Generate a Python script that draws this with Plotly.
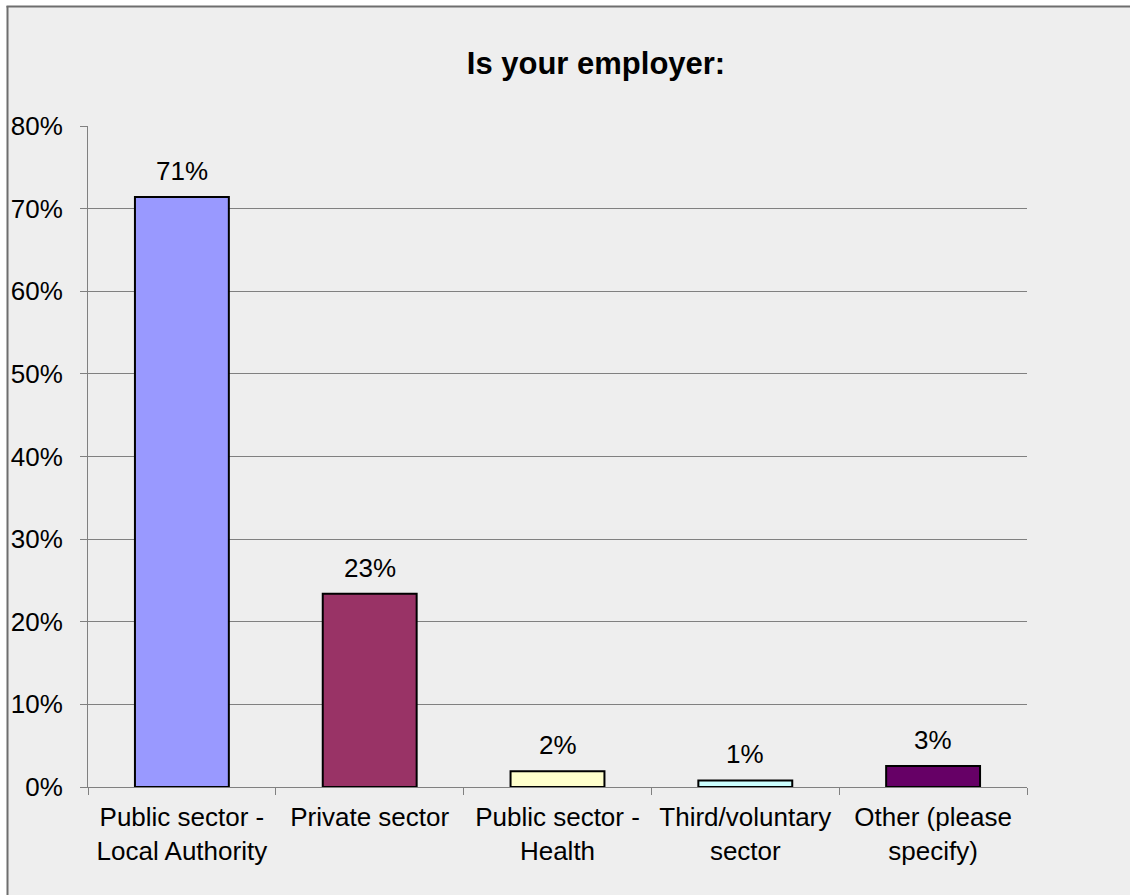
import plotly.graph_objects as go

# Survey responses: "Is your employer:"
categories = [
    "Public sector -<br>Local Authority",
    "Private sector",
    "Public sector -<br>Health",
    "Third/voluntary<br>sector",
    "Other (please<br>specify)",
]
shares = [0.714, 0.234, 0.019, 0.008, 0.0255]
value_labels = ["71%", "23%", "2%", "1%", "3%"]
bar_colors = ["#9999FF", "#993366", "#FFFFCC", "#CCFFFF", "#660066"]
y_ticks = [0, 0.1, 0.2, 0.3, 0.4, 0.5, 0.6, 0.7, 0.8]

FONT = "Liberation Sans, Arial, sans-serif"
GRID = "#808080"
FRAME = "#6E6E6E"
W, H = 1130, 895
L, R, T, B = 88, 103, 126, 108
plot_w = W - L - R
plot_h = H - T - B


def px_x(px):
    """Convert a page x pixel into paper coordinates."""
    return (px - L) / plot_w


def px_y(py):
    """Convert a page y pixel into paper coordinates."""
    return (H - B - py) / plot_h


fig = go.Figure()
fig.add_trace(go.Bar(
    x=categories,
    y=shares,
    marker=dict(color=bar_colors, line=dict(color="#000000", width=2)),
    width=0.5,
    hoverinfo="skip",
))

# value labels above each bar
for cat, val, lab in zip(categories, shares, value_labels):
    fig.add_annotation(
        x=cat, y=val, text=lab,
        showarrow=False, yanchor="middle", yshift=26,
        font=dict(family=FONT, size=26, color="#000000"),
    )

# chart-area fill and its frame (left and top edges)
fig.add_shape(
    type="rect", xref="paper", yref="paper", layer="below",
    x0=px_x(7.5), x1=px_x(W), y0=px_y(H), y1=px_y(6.5),
    line=dict(width=0), fillcolor="#EEEEEE",
)
fig.add_shape(
    type="line", xref="paper", yref="paper", layer="below",
    x0=px_x(7.5), x1=px_x(7.5), y0=px_y(H), y1=px_y(6),
    line=dict(color=FRAME, width=2),
)
fig.add_shape(
    type="line", xref="paper", yref="paper", layer="below",
    x0=px_x(6.5), x1=px_x(W), y0=px_y(6.5), y1=px_y(6.5),
    line=dict(color=FRAME, width=2),
)

fig.update_layout(
    width=W, height=H,
    margin=dict(l=L, r=R, t=T, b=B, pad=0),
    paper_bgcolor="#FFFFFF",
    plot_bgcolor="#EEEEEE",
    showlegend=False,
    font=dict(family=FONT, size=26, color="#000000"),
    title=dict(
        text="<b>Is your employer:</b>",
        font=dict(family=FONT, size=31, color="#000000"),
        xref="container", x=596 / W, xanchor="center",
        yref="container", y=1 - 63 / H, yanchor="middle",
    ),
    xaxis=dict(
        showgrid=False, showline=True, linecolor=GRID, linewidth=1,
        ticks="outside", tickson="boundaries", ticklen=7, tickcolor=GRID,
        ticklabelstandoff=7,
        tickfont=dict(family=FONT, size=26, color="#000000"),
    ),
    yaxis=dict(
        range=[0, 0.8], tickvals=y_ticks, tickformat=".0%",
        showgrid=True, gridcolor=GRID, gridwidth=1,
        showline=True, linecolor=GRID, linewidth=1, zeroline=False,
        ticks="outside", ticklen=7, tickcolor=GRID,
        ticklabelstandoff=12,
        tickfont=dict(family=FONT, size=26, color="#000000"),
    ),
    bargap=0.5,
)

fig.write_html("out.html")
